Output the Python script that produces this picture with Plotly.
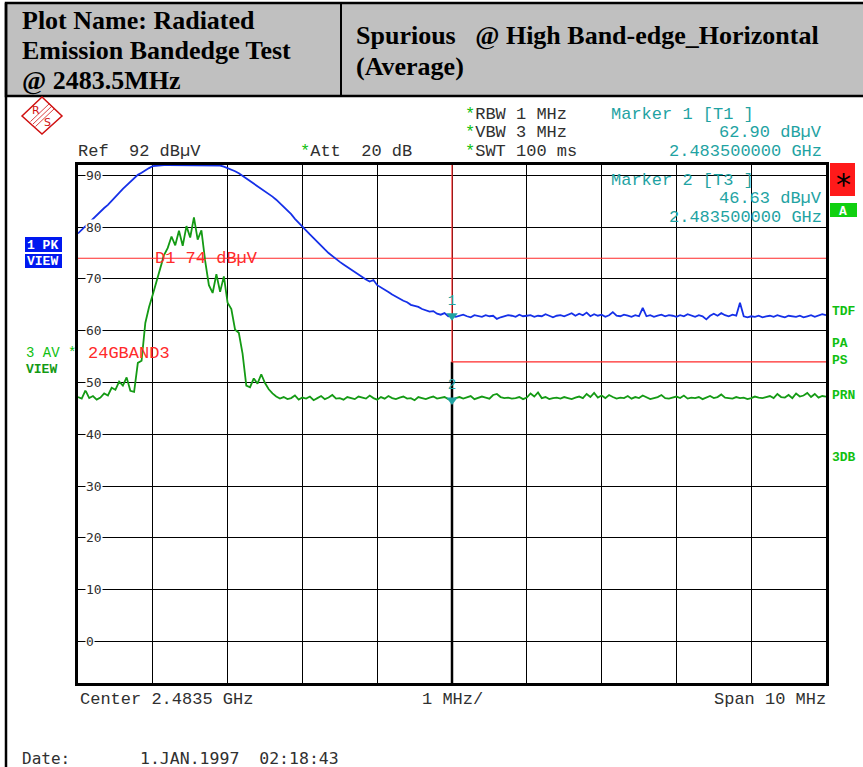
import numpy as np
import plotly.graph_objects as go

# ---------------- data ----------------
F_START_MHZ = 2478.5
F_STOP_MHZ = 2488.5
N_POINTS = 201
freq_mhz = np.linspace(F_START_MHZ, F_STOP_MHZ, N_POINTS)

# Trace 1 (PK, blue) in dBuV
trace1_pk = [
    78.8, 79.5, 80.2, 80.9, 81.7, 82.5, 83.2, 83.7, 84.3, 85.0,
    85.8, 86.6, 87.4, 88.1, 88.8, 89.5, 90.1, 90.5, 91.0, 91.4,
    91.8, 91.9, 92.0, 92.0, 92.0, 92.0, 92.0, 92.0, 92.0, 92.0,
    92.0, 92.0, 92.0, 92.0, 92.0, 92.0, 92.0, 92.0, 91.9, 91.7,
    91.4, 91.2, 90.8, 90.4, 89.9, 89.5, 89.0, 88.5, 88.0, 87.5,
    87.0, 86.5, 85.9, 85.3, 84.6, 83.9, 83.2, 82.5, 81.6, 80.8,
    80.0, 79.3, 78.6, 77.9, 77.1, 76.4, 75.7, 75.0, 74.4, 73.8,
    73.3, 72.8, 72.3, 71.9, 71.3, 70.9, 70.4, 69.9, 69.5, 69.8,
    68.8, 68.4, 67.9, 67.5, 67.0, 66.6, 66.1, 65.8, 65.5, 65.0,
    64.8, 64.6, 64.2, 64.0, 63.7, 63.8, 63.3, 63.1, 63.4, 62.8,
    62.90,
    62.7, 62.9, 63.1, 62.8, 62.6, 63.0, 62.9, 62.7, 63.0, 62.8,
    62.9, 62.3, 62.6, 62.8, 63.0, 62.9, 62.7, 63.1, 62.8, 62.9,
    63.0, 62.7, 62.9, 62.8, 63.2, 62.9, 62.6, 62.9, 63.0, 62.8,
    63.1, 63.4, 62.9, 63.3, 63.0, 63.5, 62.8, 63.2, 62.9, 63.1,
    62.7, 63.0, 63.6, 62.9, 62.8, 63.1, 62.9, 62.7, 63.0, 62.8,
    64.4, 62.8, 63.0, 62.7, 62.9, 63.1, 62.8, 63.0, 62.9, 62.7,
    63.0, 62.8, 63.2, 62.9, 62.7, 63.0, 62.8, 62.2, 62.9, 63.3,
    62.9, 63.4, 63.0, 62.8, 63.1, 62.9, 65.4, 62.8, 62.6, 62.8,
    62.7, 62.9, 62.6, 62.8, 62.9, 62.7, 63.0, 62.8, 62.6, 62.9,
    62.8, 62.7, 62.9, 62.6, 62.8, 63.0, 62.7, 62.9, 63.2, 63.0,
]

# Trace 3 (AV, green) in dBuV
trace3_av = [
    47.2, 46.9, 48.5, 47.0, 47.4, 46.7, 47.1, 47.9, 47.5, 49.0,
    48.6, 50.2, 49.4, 51.0, 48.4, 48.2, 53.8, 54.2, 61.5, 64.6,
    67.0, 69.5, 71.8, 74.6, 76.0, 78.2, 76.5, 79.3, 76.4, 80.2,
    78.0, 81.9, 77.6, 79.4, 73.5, 68.8, 67.3, 70.9, 67.5, 70.5,
    65.4, 64.2, 60.2, 59.6, 55.6, 49.4, 49.1, 50.8, 49.8, 51.6,
    49.9, 48.7, 47.9, 47.3, 46.9,
    47.2, 46.8, 47.0, 47.5, 46.7, 47.1, 46.9, 47.3, 46.6, 47.0,
    47.4, 46.8, 47.1, 47.6, 46.9, 47.0, 46.7, 47.2, 47.0, 46.8,
    47.3, 47.1, 46.9, 47.5, 47.0, 46.7, 47.2, 46.9, 47.4, 47.0,
    46.8, 47.1, 47.3, 46.9, 47.0, 46.6, 47.2, 47.0, 46.8, 47.1,
    47.3, 46.9, 47.0, 47.2, 46.8, 46.63, 47.0, 47.2, 46.9, 47.1,
    47.4, 46.8, 47.0, 47.3, 47.1, 46.9, 47.6, 47.8, 47.2, 47.0,
    47.1, 46.9, 47.0, 47.2, 46.8, 47.1, 47.9, 47.3, 48.1, 47.0,
    47.2, 46.8, 47.0, 47.1, 46.9, 47.2, 47.0, 46.8, 47.1, 47.3,
    47.0, 47.8, 47.2, 48.0, 47.1, 47.5, 47.0, 47.6, 47.2, 46.9,
    47.1, 47.0, 47.4, 46.9, 47.2, 47.0, 47.5, 47.1, 46.8, 47.0,
    47.2, 47.6, 47.0, 46.9, 47.1, 47.3, 47.0, 47.5, 46.9, 47.1,
    47.0, 47.2, 46.8, 47.1, 47.4, 47.0, 47.2, 47.7, 47.1, 47.0,
    46.9, 47.2, 47.0, 47.1, 46.8, 47.0, 47.3, 47.1, 47.0, 47.2,
    47.4, 47.0, 47.8, 47.2, 47.1, 47.6, 47.0, 47.9, 47.3, 47.5,
    48.0, 47.2, 47.8, 47.1, 47.4, 47.3,
]

D1_LEVEL = 74.0
limit_freq = [2478.5, 2483.5, 2483.5, 2488.5]
limit_level = [100.0, 100.0, 54.0, 54.0]
LIMIT_EDGE_LEVEL = 54.0
marker_freq = [2483.5, 2483.5]
marker_level = [62.90, 46.63]
marker_names = ["1", "2"]
y_tick_values = [90, 80, 70, 60, 50, 40, 30, 20, 10, 0]
Y_MIN, Y_MAX = -8, 92

# ---------------- layout helpers (pixel -> paper) ----------------
W, H = 863, 767
L, R, T, B = 78, 826, 165, 683


def px(x):
    return (x - L) / (R - L)


def py(y):
    return (B - y) / (B - T)


MONO = "Liberation Mono"
SERIF = "Liberation Serif"
BLUE = "#1530e8"
GREEN = "#149a14"
LGREEN = "#10c010"
TEAL = "#1fa3a3"
RED = "#ff2a2a"
TXT = "#303030"
NB = "\u00a0"

fig = go.Figure()

# limit line 24GBAND3
fig.add_trace(go.Scatter(x=limit_freq, y=limit_level, mode="lines",
                         line=dict(color=RED, width=1.2), hoverinfo="skip"))
# display line D1
fig.add_trace(go.Scatter(x=[F_START_MHZ, F_STOP_MHZ], y=[D1_LEVEL, D1_LEVEL], mode="lines",
                         line=dict(color=RED, width=1.2), hoverinfo="skip"))
# traces
fig.add_trace(go.Scatter(x=freq_mhz, y=trace1_pk, mode="lines",
                         line=dict(color=BLUE, width=1.8)))
fig.add_trace(go.Scatter(x=freq_mhz, y=trace3_av, mode="lines",
                         line=dict(color=GREEN, width=1.8)))
# markers
fig.add_trace(go.Scatter(x=marker_freq, y=marker_level, mode="markers+text",
                         marker=dict(symbol="triangle-down", size=10, color=TEAL),
                         text=marker_names, textposition="top center",
                         textfont=dict(family=MONO, size=14, color=TEAL)))

shapes = []
# header box
shapes.append(dict(type="rect", xref="paper", yref="paper", x0=px(6), x1=px(880),
                   y0=py(96), y1=py(3), fillcolor="#c0c0c0", line=dict(color="black", width=2.5),
                   layer="below"))
shapes.append(dict(type="line", xref="paper", yref="paper", x0=px(341), x1=px(341),
                   y0=py(96), y1=py(3), line=dict(color="black", width=2)))
# outer left frame
shapes.append(dict(type="line", xref="paper", yref="paper", x0=px(6), x1=px(6),
                   y0=py(780), y1=py(3), line=dict(color="black", width=2.5)))
# thick centre line
shapes.append(dict(type="line", xref="x", yref="y", x0=2483.5, x1=2483.5,
                   y0=Y_MIN, y1=LIMIT_EDGE_LEVEL, line=dict(color="black", width=2.5),
                   layer="between"))
# red '*' box and green 'A' box
shapes.append(dict(type="rect", xref="paper", yref="paper", x0=px(830), x1=px(855),
                   y0=py(196), y1=py(163), fillcolor="#ff1a1a", line=dict(width=0)))
shapes.append(dict(type="rect", xref="paper", yref="paper", x0=px(830), x1=px(857),
                   y0=py(217), y1=py(203), fillcolor="#10d010", line=dict(width=0)))
# blue trace-1 info box
shapes.append(dict(type="rect", xref="paper", yref="paper", x0=px(25), x1=px(62),
                   y0=py(252), y1=py(237), fillcolor="#0018f0", line=dict(width=0)))
shapes.append(dict(type="rect", xref="paper", yref="paper", x0=px(25), x1=px(62),
                   y0=py(268), y1=py(254), fillcolor="#0018f0", line=dict(width=0)))
# R&S logo diamond
dpath = "M {},{} L {},{} L {},{} L {},{} Z".format(
    px(22), py(116), px(42), py(97), px(62), py(116), px(42), py(134))
shapes.append(dict(type="path", xref="paper", yref="paper", path=dpath,
                   line=dict(color="#d01010", width=1.5)))
for off in (-2.5, 0, 2.5):
    shapes.append(dict(type="line", xref="paper", yref="paper",
                       x0=px(52 + off), y0=py(106 + off), x1=px(33 + off), y1=py(124 + off),
                       line=dict(color="#d01010", width=0.8)))

annotations = []


def ann(text, x, y, xanchor="left", color=TXT, size=17, family=MONO, bg=None, yref_data=False):
    d = dict(text=text, showarrow=False, xref="paper", x=px(x), xanchor=xanchor,
             yanchor="middle", font=dict(family=family, size=size, color=color))
    if yref_data:
        d.update(yref="y", y=y)
    else:
        d.update(yref="paper", y=py(y))
    if bg:
        d.update(bgcolor=bg, borderpad=0)
    annotations.append(d)


# header texts
for t, y in [("Plot Name: Radiated", 20), ("Emission Bandedge Test", 50), ("@ 2483.5MHz", 80)]:
    ann("<b>" + t + "</b>", 20, y, color="black", size=26, family=SERIF)
ann("<b>Spurious" + NB * 3 + "@ High Band-edge_Horizontal</b>", 354, 36, color="black", size=26, family=SERIF)
ann("<b>(Average)</b>", 354, 67, color="black", size=26, family=SERIF)

STAR = "<span style='color:" + LGREEN + "'>*</span>"
ann(STAR + "RBW 1 MHz", 463, 114)
ann(STAR + "VBW 3 MHz", 463, 133)
ann(STAR + "SWT 100 ms", 463, 152)
ann("Ref" + NB * 2 + "92 dBµV", 76, 152)
ann(STAR + "Att" + NB * 2 + "20 dB", 298, 152)
ann("Marker 1 [T1 ]", 609, 114, color=TEAL)
ann("62.90 dBµV", 824, 133, xanchor="right", color=TEAL)
ann("2.483500000 GHz", 824, 152, xanchor="right", color=TEAL)
ann("Marker 2 [T3 ]", 609, 180, color=TEAL)
ann("46.63 dBµV", 824, 198, xanchor="right", color=TEAL)
ann("2.483500000 GHz", 824, 217, xanchor="right", color=TEAL)
ann("D1 74 dBµV", 153, D1_LEVEL, color=RED, yref_data=True)
ann("24GBAND3", 86, 353, color=RED)

# left trace labels
ann("<b>1 PK</b>", 25, 245, color="white", size=13)
ann("<b>VIEW</b>", 25, 261, color="white", size=13)
ann("3 AV *", 24, 353, color=LGREEN, size=14)
ann("<b>VIEW</b>", 24, 369, color=GREEN, size=13)

# right side status
ann("*", 843, 184, xanchor="center", color="black", size=30, family="DejaVu Sans")
ann("<b>A</b>", 843, 211, xanchor="center", color="white", size=13)
for t, y in [("<b>TDF</b>", 311), ("<b>PA</b>", 343), ("<b>PS</b>", 360), ("<b>PRN</b>", 395), ("<b>3DB</b>", 457)]:
    ann(t, 830, y, color=LGREEN, size=13)

# y labels inside the grid
for v in y_tick_values:
    ann(str(v), 85, v, color=TXT, size=13, family="DejaVu Sans Mono", bg="white", yref_data=True)

# bottom texts
ann("Center 2.4835 GHz", 78, 699)
ann("1 MHz/", 420, 699)
ann("Span 10 MHz", 828, 699, xanchor="right")
ann("Date:", 20, 758, family="DejaVu Sans Mono", size=16)
ann("1.JAN.1997" + NB * 2 + "02:18:43", 138, 758, family="DejaVu Sans Mono", size=16.5)

# R&S logo letters
ann("R", 36, 110, xanchor="center", color="#d01010", size=11, family="DejaVu Sans")
ann("S", 47, 123, xanchor="center", color="#d01010", size=11, family="DejaVu Sans")

fig.update_layout(
    width=W, height=H,
    margin=dict(l=L, r=W - R, t=T, b=H - B),
    paper_bgcolor="white", plot_bgcolor="white",
    showlegend=False,
    shapes=shapes, annotations=annotations,
    xaxis=dict(range=[F_START_MHZ, F_STOP_MHZ], tick0=F_START_MHZ, dtick=1,
               showgrid=True, gridcolor="black", gridwidth=1, zeroline=False,
               showticklabels=False, ticks="", showline=True, linecolor="black",
               linewidth=3, mirror=True, fixedrange=True),
    yaxis=dict(range=[Y_MIN, Y_MAX], tick0=0, dtick=10,
               showgrid=True, gridcolor="black", gridwidth=1, zeroline=False,
               showticklabels=False, ticks="", showline=True, linecolor="black",
               linewidth=3, mirror=True, fixedrange=True),
)

fig.write_html("out.html", config={"displayModeBar": False},
               post_script="document.body.style.margin='0';document.body.style.overflow='hidden';")
